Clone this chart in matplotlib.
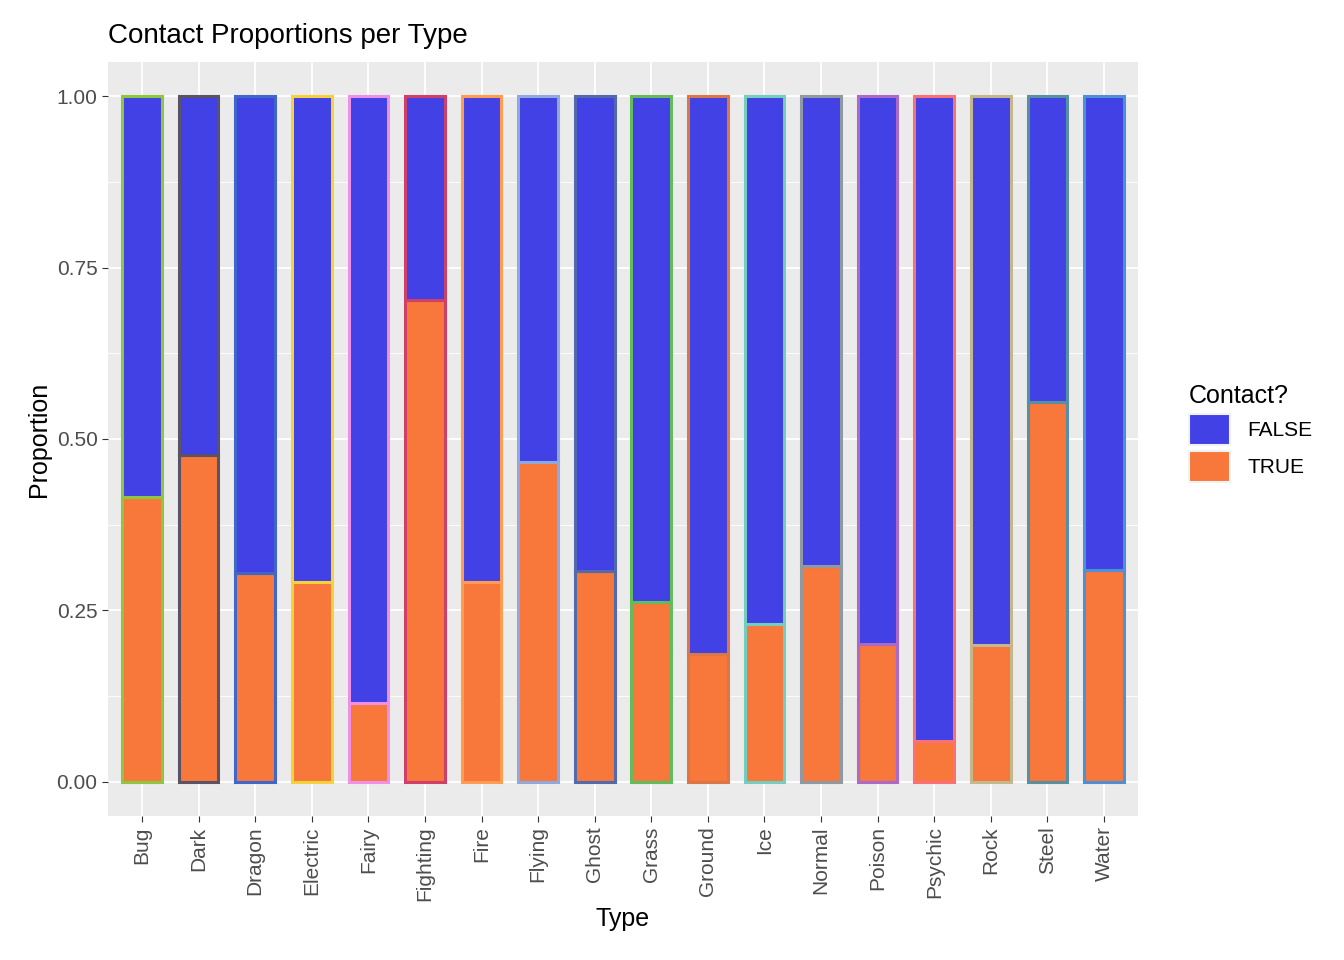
import matplotlib
matplotlib.use("Agg")
import matplotlib.pyplot as plt
from matplotlib.patches import Patch
import numpy as np

plt.rcParams['font.family'] = ['Liberation Sans', 'DejaVu Sans']

types = ["Bug","Dark","Dragon","Electric","Fairy","Fighting","Fire","Flying","Ghost",
         "Grass","Ground","Ice","Normal","Poison","Psychic","Rock","Steel","Water"]
true_prop = [0.415,0.477,0.305,0.292,0.115,0.703,0.292,0.466,0.308,
             0.262,0.187,0.230,0.315,0.201,0.060,0.200,0.554,0.309]
outline = ["#8DC63F","#5A5366","#3F66C8","#F4D23C","#EE90E6","#CE4069","#FF9C54","#8FA8DD","#5269AC",
           "#63BB5B","#D97746","#74CEC0","#9099A1","#AB6AC8","#F97176","#C5B78C","#5A8EA1","#4D90D5"]
c_false = "#4141E6"
c_true = "#F8773A"

fig = plt.figure(figsize=(13.44, 9.6), dpi=100)
ax = fig.add_axes([108/1344, 1-816/960, 1030/1344, (816-62)/960])
ax.set_facecolor("#EBEBEB")
x = np.arange(len(types))
t = np.array(true_prop)
ax.bar(x, t, width=0.7, color=c_true, edgecolor=outline, linewidth=2.2, zorder=3)
ax.bar(x, 1 - t, bottom=t, width=0.7, color=c_false, edgecolor=outline, linewidth=2.2, zorder=3)

ax.set_xlim(-0.6, len(types) - 0.4)
ax.set_ylim(-0.05, 1.05)
ax.set_yticks([0, 0.25, 0.5, 0.75, 1.0])
ax.set_yticklabels(["0.00", "0.25", "0.50", "0.75", "1.00"])
ax.set_yticks([0.125, 0.375, 0.625, 0.875], minor=True)
ax.set_xticks(x)
ax.set_xticklabels(types, rotation=90)
ax.grid(True, which='major', color='white', linewidth=1.3, zorder=0)
ax.grid(True, which='minor', axis='y', color='white', linewidth=0.6, zorder=0)
for s in ax.spines.values():
    s.set_visible(False)
ax.tick_params(axis='both', which='major', colors='#333333', labelsize=15, length=4, color='#333333')
ax.tick_params(which='minor', length=0)
for lab in ax.get_xticklabels() + ax.get_yticklabels():
    lab.set_color('#4D4D4D')
ax.set_xlabel("Type", fontsize=18)
ax.set_ylabel("Proportion", fontsize=18)
ax.set_title("Contact Proportions per Type", fontsize=20, loc='left', pad=14)

handles = [Patch(facecolor=c_false, edgecolor='#F2F2F2', linewidth=1.5, label='FALSE'),
           Patch(facecolor=c_true, edgecolor='#F2F2F2', linewidth=1.5, label='TRUE')]
fig.legend(handles=handles, title="Contact?", loc='upper left', bbox_to_anchor=(1170/1344, 1-365/960),
           frameon=False, fontsize=15, title_fontsize=18, handlelength=2.0, handleheight=1.9,
           labelspacing=0.3, alignment='left')
fig.savefig("out.png", dpi=100)
